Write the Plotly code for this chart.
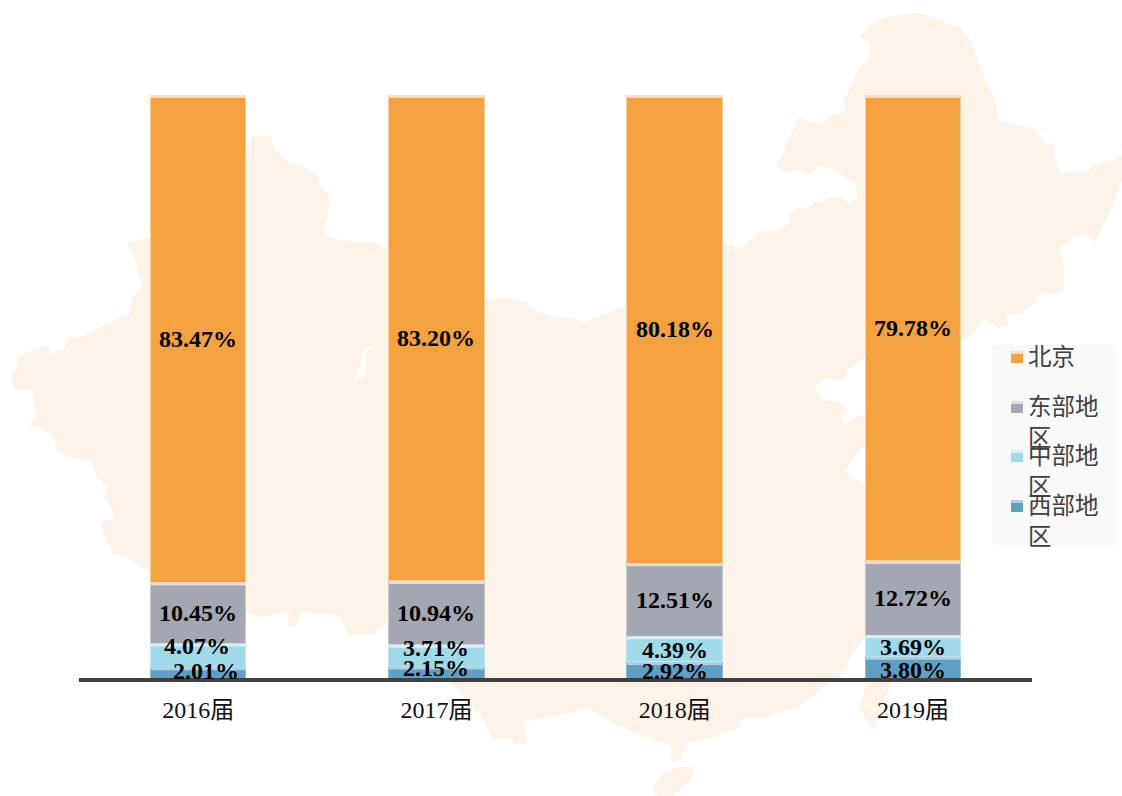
import plotly.graph_objects as go

# ---- data ----
years = ["2016届", "2017届", "2018届", "2019届"]
west = [2.01, 2.15, 2.92, 3.80]
central = [4.07, 3.71, 4.39, 3.69]
east = [10.45, 10.94, 12.51, 12.72]
beijing = [83.47, 83.20, 80.18, 79.78]
series_names = ["西部地区", "中部地区", "东部地区", "北京"]
series_values = [west, central, east, beijing]

# ---- style ----
colors = ["#5f9fc5", "#9fd9ea", "#a2a7b1", "#f4a23f"]
stripes = ["#aecfe2", "#d6f1f8", "#dcdee2", "#fbdfbf"]
edges = ["#8dbcd8", "#c2e8f2", "#c6c9cf", "#f9cf9d"]
label_dx = [[8, 0, 0, 0], [-1, 0, 0, 0], [0, 0, 0, 0], [0, 0, 0, 0]]
label_dy = [[2, 5, -1, -2], [9, 7.5, -1, -1], [0, 0, 0, 0], [0, 0, 0, 0]]

W, H = 1122, 796
L, R, T, B = 79, 1032, 95, 678
FONT = "'Liberation Serif', 'Noto Sans CJK SC', serif"


def px(x):
    return (x - L) / (R - L)


def py(y):
    return (B - y) / (B - T)


def path(points):
    return "M" + " L".join(f"{px(a):.5f},{py(b):.5f}" for a, b in points) + " Z"


china = [
    (859, 37), (875, 21), (899, 15), (919, 13), (935, 18), (949, 24), (962, 28), (970, 40), (977, 58),
    (985, 80), (992, 93), (997, 107), (997, 120), (1012, 124), (1032, 128), (1045, 143), (1054, 145),
    (1055, 160), (1060, 173), (1087, 172), (1092, 165), (1112, 160), (1122, 155), (1122, 180), (1112, 207),
    (1099, 233), (1095, 242), (1087, 235), (1074, 235), (1069, 243), (1059, 246), (1064, 263), (1064, 290),
    (1049, 295), (1040, 291), (1035, 303), (1022, 313), (1005, 315), (1009, 325), (999, 328), (985, 320),
    (979, 325), (970, 338), (900, 350), (865, 357), (847, 370), (845, 380), (822, 378), (815, 390),
    (822, 400), (839, 402), (847, 410), (840, 418), (845, 424), (865, 413), (880, 430), (865, 443),
    (854, 458), (844, 472), (865, 485), (880, 560), (865, 635), (839, 677), (830, 682), (817, 693),
    (797, 707), (763, 718), (743, 717), (740, 727), (723, 733), (717, 737), (687, 743), (680, 760),
    (672, 762), (670, 745), (640, 735), (613, 723), (587, 707), (567, 713), (523, 722), (527, 743),
    (513, 743), (513, 737), (493, 740), (480, 713), (450, 683), (430, 670), (388, 622), (373, 635),
    (348, 635), (340, 615), (303, 612), (295, 627), (290, 627), (287, 612), (260, 617), (246, 612),
    (200, 590), (150, 573), (127, 558), (112, 553), (100, 523), (107, 520), (113, 520), (113, 510),
    (104, 497), (108, 485), (97, 478), (92, 462), (67, 457), (57, 450), (53, 435), (40, 428), (28, 424),
    (38, 418), (35, 410), (33, 392), (23, 388), (15, 390), (10, 373), (17, 370), (17, 358), (33, 350),
    (48, 345), (50, 353), (63, 350), (70, 337), (83, 337), (97, 328), (130, 313), (132, 297), (142, 287),
    (135, 260), (127, 243), (150, 237), (170, 230), (175, 190), (232, 188), (235, 155), (247, 150),
    (252, 137), (270, 135), (275, 150), (287, 162), (300, 165), (317, 175), (320, 185), (330, 198),
    (328, 217), (323, 228), (328, 237), (353, 242), (373, 242), (388, 250), (420, 280), (485, 300),
    (507, 298), (527, 303), (537, 312), (560, 318), (573, 318), (583, 323), (607, 313), (627, 305),
    (680, 280), (700, 245), (722, 243), (742, 248), (759, 232), (779, 230), (790, 223), (790, 213),
    (797, 208), (810, 207), (814, 202), (820, 203), (829, 197), (842, 197), (849, 205), (857, 198),
    (855, 183), (844, 177), (835, 170), (820, 165), (810, 175), (800, 169), (785, 172), (775, 165),
    (782, 157), (787, 143), (799, 117), (819, 125), (832, 115), (845, 112), (844, 100), (850, 87),
    (859, 68), (870, 57), (871, 42),
]
hainan = [(652, 790), (663, 773), (680, 767), (695, 767), (690, 780), (673, 796), (657, 796)]
taiwan = [(868, 682), (892, 682), (883, 703), (873, 732), (867, 720), (859, 708)]
lake = [(365, 347), (378, 345), (366, 352), (365, 375), (353, 382), (360, 365)]

MAP = "#fef3e8"
shapes = []
for pts, col in ((china, MAP), (hainan, MAP), (taiwan, MAP), (lake, "#ffffff")):
    shapes.append(dict(type="path", xref="paper", yref="paper", path=path(pts), fillcolor=col,
                       line=dict(width=0), layer="below"))

fig = go.Figure()
annotations = []
for s, (name, vals) in enumerate(zip(series_names, series_values)):
    fig.add_trace(go.Bar(x=years, y=vals, name=name, width=0.4, showlegend=False,
                         marker=dict(color=colors[s], line=dict(color=edges[s], width=1))))
    for i, year in enumerate(years):
        base = sum(series_values[k][i] for k in range(s))
        top = base + vals[i]
        # pale highlight along the top of each segment
        shapes.append(dict(type="rect", xref="x", yref="y", xsizemode="pixel", ysizemode="pixel",
                           xanchor=year, yanchor=top, x0=-47.5, x1=47.5, y0=-3, y1=0,
                           fillcolor=stripes[s], line=dict(width=0), layer="above"))
        annotations.append(dict(x=year, y=base + vals[i] / 2, text=f"<b>{vals[i]:.2f}%</b>", showarrow=False,
                                xshift=label_dx[s][i], yshift=label_dy[s][i],
                                font=dict(family=FONT, size=24, color="#000000")))

# legend panel (wrapped, overlapping labels as in the reference)
shapes.append(dict(type="rect", xref="paper", yref="paper", x0=px(993), x1=px(1116), y0=py(545), y1=py(345),
                   fillcolor="#f9f9f9", line=dict(width=0), layer="below"))
legend_names = ["北京", "东部地<br>区", "中部地<br>区", "西部地<br>区"]
legend_y = [351, 401, 450, 500]
legend_idx = [3, 2, 1, 0]
for name, y0, s in zip(legend_names, legend_y, legend_idx):
    shapes.append(dict(type="rect", xref="paper", yref="paper", x0=px(1011), x1=px(1023), y0=py(y0 + 12), y1=py(y0),
                       fillcolor=colors[s], line=dict(width=0), layer="above"))
    shapes.append(dict(type="rect", xref="paper", yref="paper", x0=px(1011), x1=px(1023), y0=py(y0 + 3), y1=py(y0),
                       fillcolor=stripes[s], line=dict(width=0), layer="above"))
    annotations.append(dict(xref="paper", yref="paper", x=px(1025.5), y=py(y0 - 9), xanchor="left", yanchor="top",
                            align="left", text=name, showarrow=False,
                            font=dict(family=FONT, size=23.5, color="#404040")))

fig.update_layout(
    width=W, height=H, barmode="stack", bargap=0.6,
    margin=dict(l=L, r=W - R, t=T, b=H - B, pad=0),
    paper_bgcolor="#ffffff", plot_bgcolor="rgba(0,0,0,0)",
    shapes=shapes, annotations=annotations,
    font=dict(family=FONT),
    xaxis=dict(type="category", showline=True, linecolor="#404040", linewidth=4, ticks="", showgrid=False,
               zeroline=False, ticklabelstandoff=7, tickfont=dict(family=FONT, size=24, color="#111111")),
    yaxis=dict(range=[0.17, 100], visible=False, showgrid=False, zeroline=False),
)
fig.write_html("out.html", config={"displayModeBar": False},
               post_script="document.body.style.margin='0';document.documentElement.style.overflow='hidden';")
